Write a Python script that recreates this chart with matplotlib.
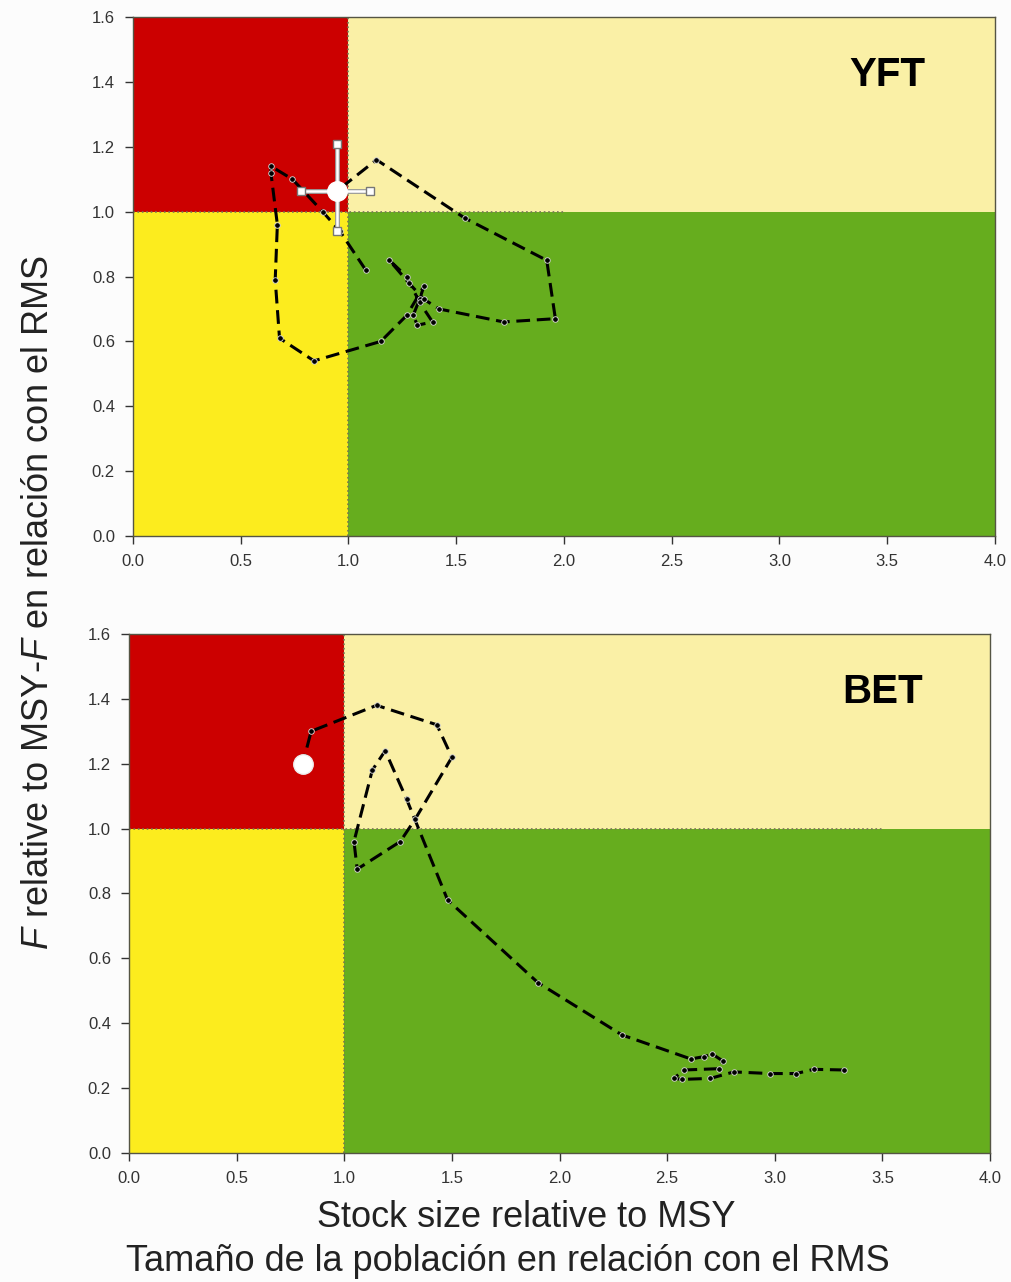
import matplotlib.pyplot as plt

plt.rcParams['font.family'] = ['Liberation Sans', 'DejaVu Sans']
plt.rcParams['mathtext.fontset'] = 'custom'
plt.rcParams['mathtext.it'] = 'Liberation Sans:italic'
plt.rcParams['mathtext.rm'] = 'Liberation Sans'

# Yellowfin (YFT) trajectory: stock size / MSY vs F / F_MSY
yft_b = [1.08, 0.96, 0.88, 0.74, 0.64, 0.64, 0.67, 0.66, 0.68, 0.84, 1.15, 1.27,
         1.35, 1.33, 1.30, 1.32, 1.39, 1.33, 1.27, 1.19, 1.28, 1.35, 1.42, 1.72,
         1.96, 1.92, 1.54, 1.13, 0.945]
yft_f = [0.82, 0.94, 1.00, 1.10, 1.14, 1.12, 0.96, 0.79, 0.61, 0.54, 0.60, 0.68,
         0.77, 0.73, 0.68, 0.65, 0.66, 0.72, 0.80, 0.85, 0.78, 0.73, 0.70, 0.66,
         0.67, 0.85, 0.98, 1.16, 1.063]
# current YFT estimate with confidence ranges
yft_now = (0.945, 1.063)
yft_b_range = (0.78, 1.10)
yft_f_range = (0.94, 1.21)

# Bigeye (BET) trajectory
bet_b = [3.32, 3.18, 3.10, 2.98, 2.81, 2.70, 2.57, 2.53, 2.58, 2.74, 2.76, 2.71,
         2.67, 2.61, 2.29, 1.90, 1.48, 1.29, 1.19, 1.13, 1.045, 1.06, 1.26, 1.33,
         1.50, 1.43, 1.15, 0.846, 0.807]
bet_f = [0.256, 0.258, 0.245, 0.245, 0.25, 0.23, 0.227, 0.23, 0.256, 0.26, 0.283, 0.305,
         0.297, 0.29, 0.364, 0.525, 0.78, 1.09, 1.24, 1.18, 0.96, 0.875, 0.96, 1.03,
         1.22, 1.32, 1.38, 1.30, 1.20]

red = '#cc0000'
pale = '#faf0a6'
yellow = '#fcec1e'
green = '#66ad1e'

fig = plt.figure(figsize=(10.12, 12.82), dpi=100, facecolor='#fcfcfc')
ax1 = fig.add_axes([0.1314, 0.5819, 0.8518, 0.4048])
ax2 = fig.add_axes([0.1275, 0.1006, 0.8508, 0.4049])


def kobe(ax, b, f, name, ref_end):
    ax.axvspan(0, 1, ymin=1/1.6, ymax=1, color=red, lw=0, zorder=0)
    ax.axvspan(1, 4, ymin=1/1.6, ymax=1, color=pale, lw=0, zorder=0)
    ax.axvspan(0, 1, ymin=0, ymax=1/1.6, color=yellow, lw=0, zorder=0)
    ax.axvspan(1, 4, ymin=0, ymax=1/1.6, color=green, lw=0, zorder=0)
    ax.plot([1, 1], [0, 1.6], ls=':', color='#777755', lw=1.2, zorder=1)
    ax.plot([0, ref_end], [1, 1], ls=':', color='#777755', lw=1.2, zorder=1)
    ax.plot(b, f, color='black', ls=(0, (4.5, 2.2)), lw=2.2, marker='o', ms=4,
            mfc='black', mec='#dddddd', mew=0.6, zorder=3)
    ax.set_xlim(0, 4)
    ax.set_ylim(0, 1.6)
    ax.set_xticks([0, 0.5, 1, 1.5, 2, 2.5, 3, 3.5, 4])
    ax.set_xticklabels(['0.0', '0.5', '1.0', '1.5', '2.0', '2.5', '3.0', '3.5', '4.0'])
    ax.set_yticks([0, 0.2, 0.4, 0.6, 0.8, 1.0, 1.2, 1.4, 1.6])
    ax.set_yticklabels(['0.0', '0.2', '0.4', '0.6', '0.8', '1.0', '1.2', '1.4', '1.6'])
    ax.tick_params(labelsize=12, colors='#333333', length=6, width=1, pad=7)
    for s in ax.spines.values():
        s.set_color('#555544')
        s.set_linewidth(1.0)
    ax.text(3.5, 1.42, name, fontsize=29, fontweight='bold', ha='center', va='center')


kobe(ax1, yft_b, yft_f, 'YFT', 2.0)
kobe(ax2, bet_b, bet_f, 'BET', 3.5)

# error bars for the current YFT point
ax1.plot(yft_b_range, [yft_now[1], yft_now[1]], color='#999999', lw=3.5, zorder=4,
         solid_capstyle='butt')
ax1.plot(yft_b_range, [yft_now[1], yft_now[1]], color='white', lw=1.8, zorder=4)
ax1.plot([yft_now[0], yft_now[0]], yft_f_range, color='#999999', lw=3.5, zorder=4,
         solid_capstyle='butt')
ax1.plot([yft_now[0], yft_now[0]], yft_f_range, color='white', lw=1.8, zorder=4)
ax1.plot(yft_b_range, [yft_now[1], yft_now[1]], ls='none', marker='s', ms=6,
         mfc='white', mec='#777777', zorder=5)
ax1.plot([yft_now[0], yft_now[0]], yft_f_range, ls='none', marker='s', ms=6,
         mfc='white', mec='#777777', zorder=5)
ax1.plot(yft_now[0], yft_now[1], marker='o', ms=14, mfc='white', mec='white', zorder=6)

ax2.plot(bet_b[-1], bet_f[-1], marker='o', ms=14, mfc='white', mec='#eeeeee', zorder=6)

fig.text(0.038, 0.53, r'$\it{F}$ relative to MSY-$\it{F}$ en relación con el RMS',
         rotation=90, ha='center', va='center', fontsize=26, color='#222222')
fig.text(0.52, 0.05, 'Stock size relative to MSY', ha='center', va='center',
         fontsize=26, color='#222222')
fig.text(0.502, 0.016, 'Tamaño de la población en relación con el RMS', ha='center',
         va='center', fontsize=26, color='#222222')

fig.savefig('out.png', dpi=100, facecolor=fig.get_facecolor())
